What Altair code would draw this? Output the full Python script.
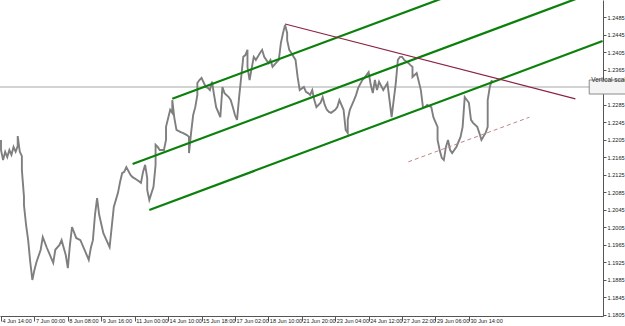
import altair as alt
import pandas as pd

# ---- price series (bar index, price) ----
bar_idx = [0, 0, 1, 2, 3, 4, 5, 6, 7, 8, 8, 9, 10, 10, 11, 11, 12, 13, 14, 15,
           16, 17, 19, 20, 22, 23, 25, 26, 28, 29, 31, 32, 33, 34, 36, 38, 40, 42, 43, 44,
           45, 46, 47, 49, 50, 52, 54, 55, 56, 57, 58, 59, 60, 62, 63, 65, 67, 68, 69, 70,
           70, 71, 73, 74, 74, 75, 76, 78, 79, 79, 81, 82, 82, 83, 84, 86, 87, 89, 90, 90,
           91, 92, 93, 94, 94, 95, 96, 98, 99, 100, 101, 102, 103, 105, 106, 107, 109, 110, 111, 112,
           113, 114, 116, 117, 118, 118, 119, 121, 122, 124, 125, 126, 128, 129, 130, 132, 133, 134, 135, 136,
           137, 137, 138, 139, 141, 142, 143, 145, 146, 147, 148, 149, 150, 151, 153, 154, 155, 156, 157, 158,
           160, 161, 162, 164, 165, 166, 166, 167, 169, 170, 171, 173, 174, 176, 177, 178, 179, 180, 181, 183,
           185, 186, 187, 189, 190, 191, 192, 193, 195, 196, 197, 197, 199, 201, 202, 203, 204, 206, 207, 208,
           209, 209, 210, 211, 212, 213, 214, 215, 216, 217, 218, 220, 221, 222, 224, 225, 226, 228, 229, 230,
           232, 233, 233, 234, 235]
bar_price = [1.2204, 1.2181, 1.2158, 1.2177, 1.2165, 1.2181, 1.2170, 1.2188, 1.2177, 1.2190, 1.2213, 1.2177, 1.2167, 1.2135, 1.2074, 1.2055, 1.2010, 1.1975, 1.1925, 1.1884,
             1.1907, 1.1925, 1.1953, 1.1982, 1.1957, 1.1946, 1.1923, 1.1953, 1.1964, 1.1975, 1.1941, 1.1911, 1.1964, 1.2005, 1.1980, 1.1975, 1.1953, 1.1930, 1.1957, 1.1975,
             1.2033, 1.2071, 1.2033, 1.1991, 1.1980, 1.1959, 1.2051, 1.2067, 1.2083, 1.2108, 1.2128, 1.2131, 1.2142, 1.2124, 1.2119, 1.2113, 1.2106, 1.2131, 1.2147, 1.2117,
             1.2090, 1.2067, 1.2097, 1.2147, 1.2193, 1.2188, 1.2181, 1.2181, 1.2204, 1.2234, 1.2273, 1.2266, 1.2295, 1.2254, 1.2227, 1.2222, 1.2220, 1.2215, 1.2211, 1.2174,
             1.2220, 1.2261, 1.2279, 1.2307, 1.2334, 1.2341, 1.2346, 1.2325, 1.2323, 1.2318, 1.2337, 1.2307, 1.2279, 1.2256, 1.2325, 1.2311, 1.2302, 1.2295, 1.2279, 1.2261,
             1.2250, 1.2302, 1.2394, 1.2398, 1.2410, 1.2371, 1.2341, 1.2394, 1.2387, 1.2403, 1.2410, 1.2394, 1.2380, 1.2387, 1.2371, 1.2382, 1.2387, 1.2426, 1.2448, 1.2467,
             1.2448, 1.2432, 1.2410, 1.2403, 1.2387, 1.2348, 1.2318, 1.2325, 1.2314, 1.2311, 1.2307, 1.2318, 1.2295, 1.2279, 1.2289, 1.2302, 1.2284, 1.2273, 1.2268, 1.2266,
             1.2273, 1.2279, 1.2295, 1.2273, 1.2227, 1.2220, 1.2250, 1.2273, 1.2295, 1.2307, 1.2323, 1.2341, 1.2346, 1.2359, 1.2330, 1.2311, 1.2341, 1.2318, 1.2337, 1.2318,
             1.2334, 1.2295, 1.2256, 1.2334, 1.2387, 1.2394, 1.2394, 1.2387, 1.2380, 1.2375, 1.2371, 1.2348, 1.2357, 1.2318, 1.2279, 1.2279, 1.2284, 1.2279, 1.2256, 1.2245,
             1.2234, 1.2204, 1.2181, 1.2163, 1.2158, 1.2188, 1.2204, 1.2181, 1.2174, 1.2181, 1.2188, 1.2211, 1.2234, 1.2302, 1.2289, 1.2250, 1.2243, 1.2234, 1.2220, 1.2204,
             1.2220, 1.2234, 1.2295, 1.2325, 1.2341]

# ---- drawn objects ----
channel_ids = ["top", "top", "mid", "mid", "low", "low"]
channel_bar = [82, 288, 63, 288, 71, 288]
channel_price = [1.2298, 1.2664, 1.2149, 1.2549, 1.2044, 1.2430]

trend_bar = [136, 275]
trend_price = [1.2469, 1.2298]

dash_bar = [195, 253]
dash_price = [1.2154, 1.2256]

hline_price = [1.2325]

box_bar = [281.6]
box_bar2 = [300.0]
box_price = [1.2341]
box_price2 = [1.2309]
box_text = ["Vertical scale"]

# ---- axes ----
x_ticks = [0, 16, 32, 48, 64, 80, 96, 112, 128, 144, 160, 176, 192, 208, 224]
x_labels = ["4 Jun 14:00", "7 Jun 00:00", "8 Jun 08:00", "9 Jun 16:00", "11 Jun 00:00",
            "14 Jun 10:00", "15 Jun 18:00", "17 Jun 02:00", "18 Jun 10:00", "21 Jun 20:00",
            "23 Jun 04:00", "24 Jun 12:00", "27 Jun 22:00", "29 Jun 06:00", "30 Jun 14:00"]
y_ticks = [1.1805, 1.1845, 1.1885, 1.1925, 1.1965, 1.2005, 1.2045, 1.2085, 1.2125, 1.2165,
           1.2205, 1.2245, 1.2285, 1.2325, 1.2365, 1.2405, 1.2445, 1.2485, 1.2525]

label_expr = "[" + ",".join("'" + s + "'" for s in x_labels) + "][round(datum.value/16)]"

FONT = "Liberation Sans"
x_scale = alt.Scale(domain=[-0.48, 288.2], nice=False, zero=False)
y_scale = alt.Scale(domain=[1.18016, 1.25239], nice=False, zero=False)

x_axis = alt.Axis(values=x_ticks, labelExpr=label_expr, title=None, grid=False,
                  labelAlign="left", labelOffset=1, labelBaseline="top", labelPadding=-3,
                  tickSize=5, tickColor="#555555", domainColor="#555555",
                  labelFont=FONT, labelFontSize=5.6, labelColor="#222222",
                  labelFlush=False, labelOverlap=False)
y_axis = alt.Axis(orient="right", values=y_ticks, format=".4f", title=None, grid=False,
                  tickSize=3, labelPadding=1, tickColor="#555555", domainColor="#555555",
                  labelFont=FONT, labelFontSize=5.6, labelColor="#222222",
                  labelFlush=False, labelOverlap=False)

X = lambda f="bar": alt.X(f + ":Q", scale=x_scale, axis=x_axis)
Y = lambda f="price": alt.Y(f + ":Q", scale=y_scale, axis=y_axis)

price_df = pd.DataFrame({"bar": bar_idx, "price": bar_price, "order": list(range(len(bar_idx)))})
chan_df = pd.DataFrame({"line": channel_ids, "bar": channel_bar, "price": channel_price})
trend_df = pd.DataFrame({"bar": trend_bar, "price": trend_price})
dash_df = pd.DataFrame({"bar": dash_bar, "price": dash_price})
hline_df = pd.DataFrame({"price": hline_price})
box_df = pd.DataFrame({"bar": box_bar, "bar2": box_bar2, "price": box_price,
                       "price2": box_price2, "text": box_text})

hline = alt.Chart(hline_df).mark_rule(color="#c4c4c4", strokeWidth=1.5).encode(y=Y())

price = alt.Chart(price_df).mark_line(color="#7f7f7f", strokeWidth=1.9, clip=True).encode(
    x=X(), y=Y(), order="order:Q")

channel = alt.Chart(chan_df).mark_line(color="#0b800b", strokeWidth=2.2, clip=True).encode(
    x=X(), y=Y(), detail="line:N")

trend = alt.Chart(trend_df).mark_line(color="#8b2342", strokeWidth=1.2, clip=True).encode(
    x=X(), y=Y())

dash = alt.Chart(dash_df).mark_line(color="#c08585", strokeWidth=1, strokeDash=[4, 3], clip=True).encode(
    x=X(), y=Y())

box = alt.Chart(box_df).mark_rect(fill="#f4f4f4", stroke="#8c8c8c", strokeWidth=1).encode(
    x=X(), x2="bar2:Q", y=Y(), y2="price2:Q")

box_label = alt.Chart(box_df).mark_text(align="left", baseline="middle", font=FONT, fontSize=6.5,
                                        color="#333333", dx=2).encode(x=X(), y=Y(), text="text:N")

chart = alt.layer(hline, price, channel, trend, dash, box, box_label).properties(
    width=603, height=316,
    autosize=alt.AutoSizeParams(type="none"),
    padding={"left": 0, "top": 0, "right": 22, "bottom": 10},
    background="white",
).configure_view(stroke=None)

chart.save("out.html", embed_options={"renderer": "svg", "actions": False})
